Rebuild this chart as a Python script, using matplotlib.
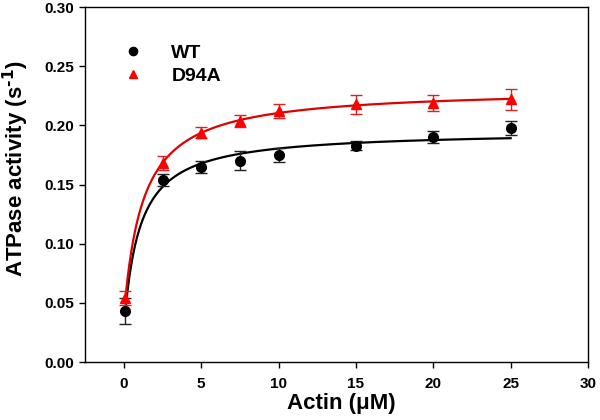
import numpy as np
import matplotlib
matplotlib.use('Agg')
import matplotlib.pyplot as plt

plt.rcParams['font.family'] = ['Liberation Sans', 'DejaVu Sans']
plt.rcParams['font.weight'] = 'bold'
plt.rcParams['mathtext.default'] = 'bf'

# actin concentration (uM)
actin = [0.1, 2.5, 5, 7.5, 10, 15, 20, 25]

wt = [0.043, 0.154, 0.165, 0.170, 0.175, 0.183, 0.190, 0.198]
wt_err = [0.011, 0.005, 0.005, 0.008, 0.006, 0.004, 0.005, 0.006]

d94a = [0.054, 0.168, 0.194, 0.204, 0.212, 0.218, 0.219, 0.222]
d94a_err = [0.006, 0.006, 0.005, 0.005, 0.006, 0.008, 0.007, 0.009]


def fit_hyperbola(x, y):
    # y = y0 + V*x/(K+x), grid over K, least squares for y0 and V
    x = np.asarray(x, float)
    y = np.asarray(y, float)
    best = None
    for K in np.linspace(0.05, 10, 2000):
        A = np.column_stack([np.ones_like(x), x / (K + x)])
        coef, res, _, _ = np.linalg.lstsq(A, y, rcond=None)
        r = np.sum((A @ coef - y) ** 2)
        if best is None or r < best[0]:
            best = (r, K, coef)
    _, K, (y0, V) = best
    return lambda t: y0 + V * t / (K + t)


fig = plt.figure(figsize=(6, 4.2), dpi=100)
ax = fig.add_axes([0.142, 0.138, 0.838, 0.845])

xs = np.linspace(actin[0], actin[-1], 400)
f_wt = fit_hyperbola(actin, wt)
f_d = fit_hyperbola(actin, d94a)
ax.plot(xs, f_wt(xs), color='black', lw=1.6, zorder=2)
ax.plot(xs, f_d(xs), color='#e00000', lw=1.6, zorder=2)

ax.errorbar(actin, wt, yerr=wt_err, fmt='o', color='black', ecolor='#222222',
            ms=7, capsize=4, elinewidth=1, capthick=1, label='WT', zorder=3)
ax.errorbar(actin, d94a, yerr=d94a_err, fmt='^', color='#ff0000', ecolor='#e02020',
            ms=7.5, capsize=4, elinewidth=1, capthick=1, label='D94A', zorder=3)

ax.set_xlim(-2.5, 30)
ax.set_ylim(0, 0.30)
ax.set_xticks([0, 5, 10, 15, 20, 25, 30])
ax.set_yticks(np.arange(0, 0.31, 0.05))
ax.yaxis.set_major_formatter(matplotlib.ticker.FormatStrFormatter('%.2f'))
ax.tick_params(direction='out', length=4, width=1, labelsize=11, pad=4)
ax.xaxis.set_tick_params(pad=7)
for s in ax.spines.values():
    s.set_linewidth(1)

ax.set_xlabel('Actin (\u03bcM)', fontsize=16, fontweight='bold')
ax.xaxis.set_label_coords(0.51, -0.087)
ax.set_ylabel('ATPase activity (s$^{\\text{-1}}$)', fontsize=16, fontweight='bold')
ax.yaxis.set_label_coords(-0.108, 0.545)

handles, labels = ax.get_legend_handles_labels()
handles = [h[0] for h in handles]
ax.legend(handles, labels, loc='upper left', bbox_to_anchor=(0.032, 0.945),
          frameon=False, prop={'size': 14, 'weight': 'bold'}, handletextpad=1.2,
          labelspacing=0.3, handlelength=1.5, markerscale=0.85)

fig.savefig('out.png', dpi=100)
